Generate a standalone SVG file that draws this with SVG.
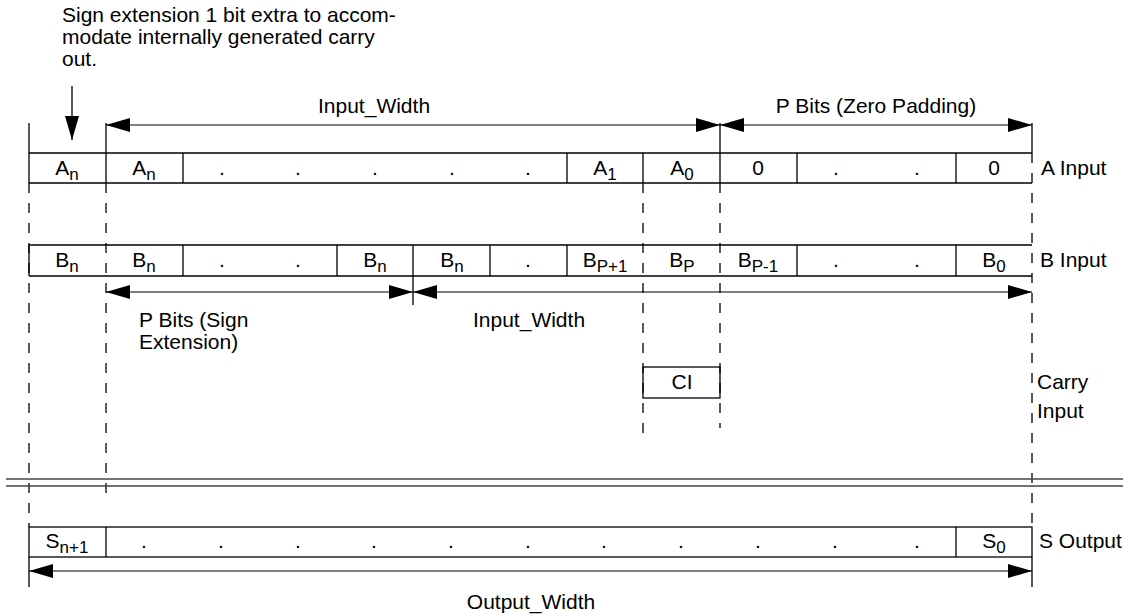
<svg xmlns="http://www.w3.org/2000/svg" width="1135" height="614" viewBox="0 0 1135 614">
  <style>
    .t { font-family: "Liberation Sans", Arial, sans-serif; font-size: 21px; fill: #000; }
    .c { text-anchor: middle; }
    .sub { font-size: 17px; }
    .ln { stroke: #000; stroke-width: 1.3; fill: none; }
    .dash { stroke: #000; stroke-width: 1.3; stroke-dasharray: 10 10; fill: none; }
    .dim { stroke: #000; stroke-width: 1.2; fill: none; marker-start: url(#head); marker-end: url(#head); }
    .sep { stroke: #444; stroke-width: 1.5; fill: none; }
  </style>
  <defs>
    <marker id="head" markerUnits="userSpaceOnUse" markerWidth="24" markerHeight="14" refX="24" refY="7" orient="auto-start-reverse">
      <path d="M0,0 L24,7 L0,14 z" fill="#000"/>
    </marker>
    <marker id="headOne" markerUnits="userSpaceOnUse" markerWidth="24" markerHeight="14" refX="24" refY="7" orient="auto">
      <path d="M0,0 L24,7 L0,14 z" fill="#000"/>
    </marker>
  </defs>
  <rect width="1135" height="614" fill="#fff"/>

  <!-- note about the extra sign bit -->
  <g id="note">
    <text class="t" x="62" y="22">Sign extension 1 bit extra to accom-</text>
    <text class="t" x="62" y="44">modate internally generated carry</text>
    <text class="t" x="62" y="66">out.</text>
  </g>

  <!-- bit alignment guides and dimension arrows -->
  <g id="connectors">
    <line class="ln" x1="72" y1="86" x2="72" y2="140" marker-end="url(#headOne)"/>
    <!-- guides -->
    <line class="dash" x1="29" y1="183" x2="29" y2="527"/>
    <line class="dash" x1="106" y1="183" x2="106" y2="503"/>
    <line class="dash" x1="643" y1="183" x2="643" y2="436"/>
    <line class="dash" x1="720" y1="183" x2="720" y2="428"/>
    <line class="dash" x1="1032" y1="153" x2="1032" y2="527"/>
    <!-- extension ticks -->
    <line class="ln" x1="29" y1="123" x2="29" y2="153"/>
    <line class="ln" x1="106" y1="123" x2="106" y2="153"/>
    <line class="ln" x1="720" y1="123" x2="720" y2="153"/>
    <line class="ln" x1="1032" y1="123" x2="1032" y2="153"/>
    <line class="ln" x1="413" y1="276" x2="413" y2="305"/>
    <line class="ln" x1="29" y1="557" x2="29" y2="587"/>
    <line class="ln" x1="1032" y1="557" x2="1032" y2="587"/>
    <!-- dimensions -->
    <line class="dim" x1="106" y1="125" x2="720" y2="125"/>
    <line class="dim" x1="720" y1="125" x2="1032" y2="125"/>
    <line class="dim" x1="106" y1="292" x2="413" y2="292"/>
    <line class="dim" x1="413" y1="292" x2="1032" y2="292"/>
    <line class="dim" x1="29" y1="571" x2="1032" y2="571"/>
    <!-- adder boundary -->
    <line class="sep" x1="6" y1="479" x2="1123" y2="479"/>
    <line class="sep" x1="6" y1="486" x2="1123" y2="486"/>
  </g>

  <g id="dim-labels">
    <text class="t" x="318" y="113">Input_Width</text>
    <text class="t c" x="876" y="113">P Bits (Zero Padding)</text>
    <text class="t" x="139" y="327">P Bits (Sign</text>
    <text class="t" x="139" y="349">Extension)</text>
    <text class="t" x="473" y="327">Input_Width</text>
    <text class="t c" x="531" y="609">Output_Width</text>
  </g>

  <!-- A operand -->
  <g id="row-a">
    <line class="ln" x1="29" y1="153" x2="1032" y2="153"/>
    <line class="ln" x1="29" y1="183" x2="1032" y2="183"/>
    <line class="ln" x1="29" y1="153" x2="29" y2="183"/>
    <line class="ln" x1="106" y1="153" x2="106" y2="183"/>
    <line class="ln" x1="183" y1="153" x2="183" y2="183"/>
    <line class="ln" x1="567" y1="153" x2="567" y2="183"/>
    <line class="ln" x1="643" y1="153" x2="643" y2="183"/>
    <line class="ln" x1="720" y1="153" x2="720" y2="183"/>
    <line class="ln" x1="797" y1="153" x2="797" y2="183"/>
    <line class="ln" x1="956" y1="153" x2="956" y2="183"/>
    <text class="t c" x="67" y="175">A<tspan class="sub" dy="5">n</tspan></text>
    <text class="t c" x="144" y="175">A<tspan class="sub" dy="5">n</tspan></text>
    <text class="t c" x="222" y="175">.</text>
    <text class="t c" x="298" y="175">.</text>
    <text class="t c" x="375" y="175">.</text>
    <text class="t c" x="452" y="175">.</text>
    <text class="t c" x="528" y="175">.</text>
    <text class="t c" x="605" y="175">A<tspan class="sub" dy="5">1</tspan></text>
    <text class="t c" x="682" y="175">A<tspan class="sub" dy="5">0</tspan></text>
    <text class="t c" x="758" y="175">0</text>
    <text class="t c" x="836" y="175">.</text>
    <text class="t c" x="917" y="175">.</text>
    <text class="t c" x="994" y="175">0</text>
    <text class="t" x="1041" y="175">A Input</text>
  </g>

  <!-- B operand -->
  <g id="row-b">
    <line class="ln" x1="29" y1="245" x2="1032" y2="245"/>
    <line class="ln" x1="29" y1="276" x2="1032" y2="276"/>
    <line class="ln" x1="29" y1="245" x2="29" y2="276"/>
    <line class="ln" x1="183" y1="245" x2="183" y2="276"/>
    <line class="ln" x1="337" y1="245" x2="337" y2="276"/>
    <line class="ln" x1="413" y1="245" x2="413" y2="276"/>
    <line class="ln" x1="490" y1="245" x2="490" y2="276"/>
    <line class="ln" x1="567" y1="245" x2="567" y2="276"/>
    <line class="ln" x1="797" y1="245" x2="797" y2="276"/>
    <line class="ln" x1="956" y1="245" x2="956" y2="276"/>
    <text class="t c" x="67" y="267">B<tspan class="sub" dy="5">n</tspan></text>
    <text class="t c" x="144" y="267">B<tspan class="sub" dy="5">n</tspan></text>
    <text class="t c" x="222" y="267">.</text>
    <text class="t c" x="298" y="267">.</text>
    <text class="t c" x="375" y="267">B<tspan class="sub" dy="5">n</tspan></text>
    <text class="t c" x="452" y="267">B<tspan class="sub" dy="5">n</tspan></text>
    <text class="t c" x="528" y="267">.</text>
    <text class="t c" x="605" y="267">B<tspan class="sub" dy="5">P+1</tspan></text>
    <text class="t c" x="682" y="267">B<tspan class="sub" dy="5">P</tspan></text>
    <text class="t c" x="758" y="267">B<tspan class="sub" dy="5">P-1</tspan></text>
    <text class="t c" x="836" y="267">.</text>
    <text class="t c" x="917" y="267">.</text>
    <text class="t c" x="994" y="267">B<tspan class="sub" dy="5">0</tspan></text>
    <text class="t" x="1040" y="267">B Input</text>
  </g>

  <!-- carry input -->
  <g id="carry-in">
    <rect class="ln" x="643" y="367" width="77" height="31"/>
    <text class="t c" x="682" y="389">CI</text>
    <text class="t" x="1037" y="389">Carry</text>
    <text class="t" x="1037" y="418">Input</text>
  </g>

  <!-- S result -->
  <g id="row-s">
    <rect class="ln" x="29" y="527" width="1003" height="30"/>
    <line class="ln" x1="106" y1="527" x2="106" y2="557"/>
    <line class="ln" x1="956" y1="527" x2="956" y2="557"/>
    <text class="t c" x="67" y="548">S<tspan class="sub" dy="5">n+1</tspan></text>
    <text class="t c" x="144" y="548">.</text>
    <text class="t c" x="221" y="548">.</text>
    <text class="t c" x="298" y="548">.</text>
    <text class="t c" x="374" y="548">.</text>
    <text class="t c" x="451" y="548">.</text>
    <text class="t c" x="528" y="548">.</text>
    <text class="t c" x="604" y="548">.</text>
    <text class="t c" x="681" y="548">.</text>
    <text class="t c" x="758" y="548">.</text>
    <text class="t c" x="835" y="548">.</text>
    <text class="t c" x="917" y="548">.</text>
    <text class="t c" x="994" y="548">S<tspan class="sub" dy="5">0</tspan></text>
    <text class="t" x="1039" y="548">S Output</text>
  </g>
</svg>
